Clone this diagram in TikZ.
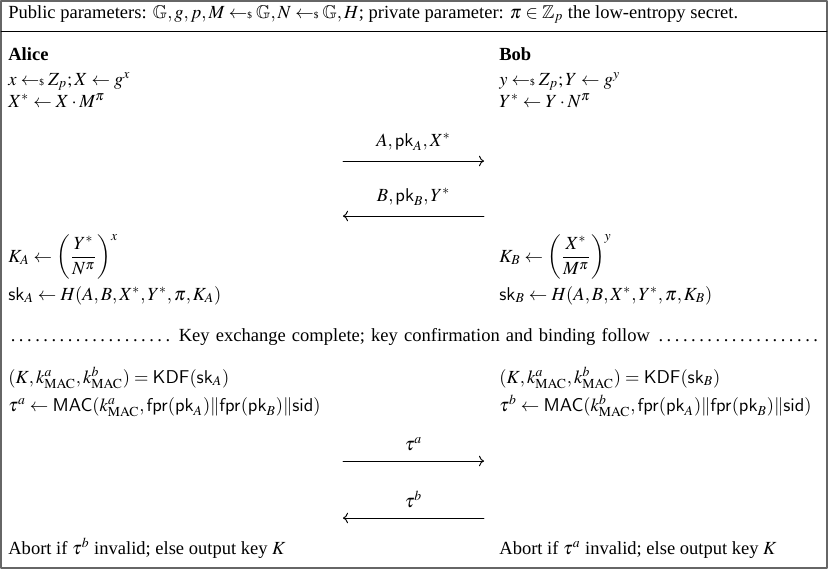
\documentclass[tikz,border=0pt]{standalone}
\usepackage{amsmath}
\usepackage{amssymb}
\usepackage{mathptmx}
\usepackage{fontspec}
\setmainfont{Liberation Serif}
\setsansfont{Liberation Sans}
\usetikzlibrary{arrows.meta}

\newcommand{\smpl}{\mathrel{\leftarrow\!\!\mbox{\tiny\$}}}
\newcommand{\fn}[1]{\mathsf{#1}}

\tikzset{
  party/.style={anchor=base west, inner sep=0pt, font=\bfseries},
  pline/.style={anchor=base west, inner sep=0pt},
  msg/.style={->, line width=0.5pt},
}

\begin{document}
\begin{tikzpicture}[>=To, line cap=round, line join=round, x=0.54pt, y=-0.54pt]

  \useasboundingbox (0,0) rectangle (828,569);
  \draw[black!60, line width=0.9pt] (1,1) rectangle (827,568);

  %--------------------------
  % Header
  %--------------------------
  \node[pline] (pub) at (8,18) {Public parameters: $\mathbb{G}, g, p, M \smpl \mathbb{G}, N \smpl \mathbb{G}, H$; private parameter: $\pi \in \mathbb{Z}_p$ the low-entropy secret.};
  \draw[line width=0.5pt] (1,31) -- (827,31);

  %--------------------------
  % Alice
  %--------------------------
  \begin{scope}[shift={(8,0)}]
    \node[party] (alice) at (0,60) {Alice};
    \node[pline] (a1) at (0,85) {$x \smpl Z_p; X \leftarrow g^x$};
    \node[pline] (a2) at (0,107) {$X^* \leftarrow X \cdot M^{\pi}$};
    \node[pline] (a3) at (0,262) {$K_A \leftarrow \left(\dfrac{Y^*}{N^{\pi}}\right)^{x}$};
    \node[pline] (a4) at (0,300) {$\fn{sk}_A \leftarrow H(A, B, X^*, Y^*, \pi, K_A)$};
    \node[pline] (a5) at (0,383) {$(K, k^a_{\mathrm{MAC}}, k^b_{\mathrm{MAC}}) = \fn{KDF}(\fn{sk}_A)$};
    \node[pline] (a6) at (0,411) {$\tau^a \leftarrow \fn{MAC}(k^a_{\mathrm{MAC}}, \fn{fpr}(\fn{pk}_A) \| \fn{fpr}(\fn{pk}_B) \| \fn{sid})$};
    \node[pline] (a7) at (0,554) {Abort if $\tau^b$ invalid; else output key $K$};
  \end{scope}

  %--------------------------
  % Bob
  %--------------------------
  \begin{scope}[shift={(499,0)}]
    \node[party] (bob) at (0,60) {Bob};
    \node[pline] (b1) at (0,85) {$y \smpl Z_p; Y \leftarrow g^y$};
    \node[pline] (b2) at (0,107) {$Y^* \leftarrow Y \cdot N^{\pi}$};
    \node[pline] (b3) at (0,262) {$K_B \leftarrow \left(\dfrac{X^*}{M^{\pi}}\right)^{y}$};
    \node[pline] (b4) at (0,300) {$\fn{sk}_B \leftarrow H(A, B, X^*, Y^*, \pi, K_B)$};
    \node[pline] (b5) at (0,383) {$(K, k^a_{\mathrm{MAC}}, k^b_{\mathrm{MAC}}) = \fn{KDF}(\fn{sk}_B)$};
    \node[pline] (b6) at (0,411) {$\tau^b \leftarrow \fn{MAC}(k^b_{\mathrm{MAC}}, \fn{fpr}(\fn{pk}_A) \| \fn{fpr}(\fn{pk}_B) \| \fn{sid})$};
    \node[pline] (b7) at (0,554) {Abort if $\tau^a$ invalid; else output key $K$};
  \end{scope}

  % Separator
  \node[pline, text width=438.5pt] (sep) at (8,341) {\dotfill\ Key exchange complete; key confirmation and binding follow \dotfill};

  %--------------------------
  % Messages
  %--------------------------
  \coordinate (m1s) at (343,161); \coordinate (m1e) at (484,161);
  \coordinate (m2s) at (343,216); \coordinate (m2e) at (484,216);
  \coordinate (m3s) at (343,461); \coordinate (m3e) at (484,461);
  \coordinate (m4s) at (343,518); \coordinate (m4e) at (484,518);

  \draw[msg] (m1s) -- (m1e) node[midway, above=2pt] (l1) {$A, \fn{pk}_A, X^*$};
  \draw[msg] (m2e) -- (m2s) node[midway, above=2pt] (l2) {$B, \fn{pk}_B, Y^*$};
  \draw[msg] (m3s) -- (m3e) node[midway, above=2pt] (l3) {$\tau^a$};
  \draw[msg] (m4e) -- (m4s) node[midway, above=2pt] (l4) {$\tau^b$};

\end{tikzpicture}
\end{document}
